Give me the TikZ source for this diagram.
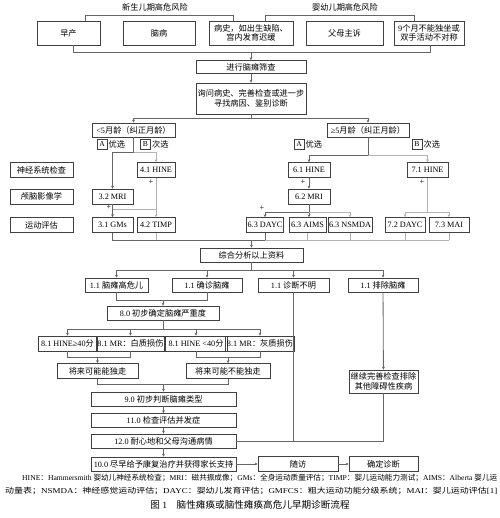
\documentclass[tikz,border=0pt]{standalone}
\usepackage{fontspec}
\setmainfont{Liberation Serif}
\newfontfamily\cjk{Noto Sans CJK SC}
\newcommand{\zh}[1]{{\cjk #1}}
\usetikzlibrary{arrows.meta}
\tikzset{
  box/.style={draw=black!75, line width=0.6pt, inner sep=1pt, align=center,
    minimum height=0.45cm, font=\fontsize{7}{8.2}\selectfont},
  tag/.style={draw=black!75, line width=0.5pt, inner sep=0.8pt, minimum size=0.3cm,
    font=\fontsize{6.5}{7}\selectfont},
  txt/.style={font=\fontsize{7}{8.2}\selectfont, inner sep=1pt},
  notetxt/.style={font=\fontsize{6.4}{7}\selectfont, inner sep=0pt},
  line/.style={draw=black!60, line width=0.7pt},
  link/.style={line, -{Stealth[length=2.5pt,width=2.5pt]}},
  alt/.style={draw=black!30, line width=0.6pt},
  altlink/.style={alt, -{Stealth[length=2.5pt,width=2.5pt]}},
}
\begin{document}
\begin{tikzpicture}[x=0.03cm, y=-0.03cm]
  \useasboundingbox (0,0) rectangle (500,518);
  % risk factors
  \node[txt] (nb) at (155,7) {\zh{新生儿期高危风险}};
  \node[txt] (inf) at (345,7) {\zh{婴幼儿期高危风险}};
  \node[box, minimum width=1.89cm, minimum height=0.72cm] (early) at (68.5,33) {\zh{早产}};
  \node[box, minimum width=2.16cm, minimum height=0.72cm] (brain) at (159,33) {\zh{脑病}};
  \node[box, minimum width=2.52cm, minimum height=0.72cm] (hist) at (251,33) {\zh{病史，如出生缺陷、}\\\zh{宫内发育迟缓}};
  \node[box, minimum width=2.31cm, minimum height=0.72cm] (parent) at (344.5,33) {\zh{父母主诉}};
  \node[box, minimum width=2.10cm, minimum height=0.72cm] (sit) at (429,33) {9\zh{个月不能独坐或}\\\zh{双手活动不对称}};
  \coordinate (nbl) at (85,15);
  \coordinate (nbr) at (233,15);
  \coordinate (infl) at (265,15);
  \coordinate (infr) at (414,15);
  \draw[line] (nbl |- early.north) -- (nbl) -- (nbr) -- (nbr |- hist.north);
  \draw[line] (infl |- hist.north) -- (infl) -- (infr) -- (infr |- sit.north);
  \coordinate (bl) at (73,52);
  \coordinate (br) at (430,52);
  \coordinate (jtop) at (251,52);
  \draw[line] (bl |- early.south) -- (bl) -- (br) -- (br |- sit.south);
  % screening
  \node[box, minimum width=3.30cm, minimum height=0.39cm] (screen) at (251,67) {\zh{进行脑瘫筛查}};
  \node[box, minimum width=3.30cm, minimum height=0.93cm] (ask) at (251,98.5) {\zh{询问病史、完善检查或进一步}\\\zh{寻找病因、鉴别诊断}};
  \draw[link] (jtop) -- (screen);
  \draw[link] (screen) -- (ask);
  \node[box, minimum width=2.49cm, minimum height=0.42cm] (lt5) at (133.5,130) {<5\zh{月龄（纠正月龄）}};
  \node[box, minimum width=2.46cm, minimum height=0.42cm] (ge5) at (368,130) {≥5\zh{月龄（纠正月龄）}};
  \coordinate (jage) at (251,118);
  \draw[line] (ask) -- (jage);
  \draw[link] (jage) -| (lt5);
  \draw[link] (jage) -| (ge5);
  % choices
  \node[tag] (lA) at (102,144) {A};
  \node[txt, right] at (lA.east) {\zh{优选}};
  \node[tag] (lB) at (145.5,144) {B};
  \node[txt, right] at (lB.east) {\zh{次选}};
  \node[tag] (rA) at (299,144) {A};
  \node[txt, right] at (rA.east) {\zh{优选}};
  \node[tag] (rB) at (417,144) {B};
  \node[txt, right] at (rB.east) {\zh{次选}};
  % row titles
  \node[box, minimum width=1.89cm] (rneuro) at (41.5,170) {\zh{神经系统检查}};
  \node[box, minimum width=1.89cm] (rimg) at (41.5,196.5) {\zh{颅脑影像学}};
  \node[box, minimum width=1.89cm] (rmot) at (41.5,225) {\zh{运动评估}};
  % under 5 months
  \node[box, minimum width=1.14cm] (hine41) at (156,170) {4.1 HINE};
  \node[box, minimum width=1.23cm] (mri32) at (112.5,196.5) {3.2 MRI};
  \node[box, minimum width=1.23cm] (gms31) at (112.5,225) {3.1 GMs};
  \node[box, minimum width=1.14cm] (timp42) at (156,225) {4.2 TIMP};
  \coordinate (jl) at (133.5,152);
  \coordinate (jm) at (112.5,209);
  \draw[line] (lt5) -- (jl);
  \draw[link] (jl) -| (mri32);
  \draw[altlink] (jl) -| (hine41);
  \draw[link] (mri32) -- (gms31);
  \draw[altlink] (hine41) -- (timp42);
  \draw[alt] (jm) -- (jm -| timp42);
  \node[txt] at (109,207) {+};
  \node[txt] at (151,182) {+};
  % 5 months and over
  \node[box, minimum width=1.26cm] (hine61) at (309,170) {6.1 HINE};
  \node[box, minimum width=1.26cm] (mri62) at (309,196.5) {6.2 MRI};
  \node[box, minimum width=1.08cm] (dayc63) at (265,225) {6.3 DAYC};
  \node[box, minimum width=1.11cm] (aims63) at (307.5,225) {6.3 AIMS};
  \node[box, minimum width=1.32cm] (nsmda63) at (350,225) {6.3 NSMDA};
  \node[box, minimum width=1.23cm] (hine71) at (427.5,170) {7.1 HINE};
  \node[box, minimum width=1.20cm] (dayc72) at (405,225) {7.2 DAYC};
  \node[box, minimum width=1.20cm] (mai73) at (449,225) {7.3 MAI};
  \coordinate (jr) at (368,155);
  \coordinate (jr6) at (309,212);
  \coordinate (jr7) at (427.5,212);
  \draw[line] (ge5) -- (jr);
  \draw[link] (jr) -| (hine61);
  \draw[altlink] (jr) -| (hine71);
  \draw[link] (hine61) -- (mri62);
  \draw[line] (mri62) -- (jr6);
  \draw[link] (jr6) -| (dayc63);
  \draw[link] (jr6) -- (jr6 |- aims63.north);
  \draw[altlink] (jr6) -| (nsmda63);
  \draw[alt] (hine71) -- (jr7);
  \draw[altlink] (jr7) -| (dayc72);
  \draw[altlink] (jr7) -| (mai73);
  \node[txt] at (303,182) {+};
  \node[txt] at (262,208) {+};
  \node[txt] at (422,182) {+};
  % collect
  \coordinate (jc) at (251.5,240);
  \draw[line] (gms31) |- (jc);
  \draw[line] (dayc63) |- (jc);
  \draw[alt] (timp42) -- (timp42 |- jc);
  \draw[alt] (aims63) -- (aims63 |- jc);
  \draw[alt] (nsmda63) -- (nsmda63 |- jc);
  \draw[alt] (dayc72) -- (dayc72 |- jc);
  \draw[alt] (mai73) -- (mai73 |- jc);
  \draw[alt] (dayc63 |- jc) -- (mai73 |- jc);
  \node[box, minimum width=3.09cm, minimum height=0.42cm] (summ) at (251.5,255) {\zh{综合分析以上资料}};
  \draw[link] (jc) -- (summ);
  % results
  \node[box, minimum width=1.89cm, minimum height=0.42cm] (hr) at (116.5,285) {1.1 \zh{脑瘫高危儿}};
  \node[box, minimum width=2.10cm, minimum height=0.42cm] (cp) at (207,285) {1.1 \zh{确诊脑瘫}};
  \node[box, minimum width=2.13cm, minimum height=0.42cm] (unk) at (293.5,285) {1.1 \zh{诊断不明}};
  \node[box, minimum width=2.10cm, minimum height=0.42cm] (excl) at (383,285) {1.1 \zh{排除脑瘫}};
  \coordinate (js) at (251.5,270);
  \draw[line] (summ) -- (js);
  \draw[line] (js -| hr) -- (js -| excl);
  \draw[link] (js -| hr) -- (hr);
  \draw[link] (js -| cp) -- (cp);
  \draw[link] (js -| unk) -- (unk);
  \draw[link] (js -| excl) -- (excl);
  % severity
  \node[box, minimum width=3.36cm, minimum height=0.42cm] (sev) at (163,313) {8.0 \zh{初步确定脑瘫严重度}};
  \coordinate (jh) at (163,300);
  \draw[line] (hr) |- (jh);
  \draw[line] (cp) |- (jh);
  \draw[link] (jh) -- (sev);
  \node[box, minimum width=1.77cm] (s1) at (67.5,343.5) {8.1 HINE≥40\zh{分}};
  \node[box, minimum width=1.89cm] (s2) at (130.5,343.5) {8.1 MR\zh{：白质损伤}};
  \node[box, minimum width=1.86cm] (s3) at (196,343.5) {8.1 HINE <40\zh{分}};
  \node[box, minimum width=1.86cm] (s4) at (260,343.5) {8.1 MR\zh{：灰质损伤}};
  \coordinate (jv) at (163,329);
  \draw[line] (sev) -- (jv);
  \draw[line] (jv -| s1) -- (jv -| s4);
  \draw[link] (jv -| s1) -- (s1);
  \draw[link] (jv -| s2) -- (s2);
  \draw[link] (jv -| s3) -- (s3);
  \draw[link] (jv -| s4) -- (s4);
  \node[box, minimum width=2.43cm] (walk) at (97.5,371) {\zh{将来可能能独走}};
  \node[box, minimum width=2.52cm] (nowalk) at (228,371) {\zh{将来可能不能独走}};
  \coordinate (jw) at (97.5,357);
  \coordinate (jn) at (228,357);
  \draw[line] (s1) |- (jw);
  \draw[line] (s2) |- (jw);
  \draw[link] (jw) -- (walk);
  \draw[line] (s3) |- (jn);
  \draw[line] (s4) |- (jn);
  \draw[link] (jn) -- (nowalk);
  % management
  \node[box, minimum width=4.35cm, minimum height=0.42cm] (type) at (163.5,399) {9.0 \zh{初步判断脑瘫类型}};
  \node[box, minimum width=4.35cm, minimum height=0.42cm] (comp) at (163.5,420.5) {11.0 \zh{检查评估并发症}};
  \node[box, minimum width=4.35cm, minimum height=0.42cm] (talk) at (163.5,441) {12.0 \zh{耐心地和父母沟通病情}};
  \node[box, minimum width=4.35cm, minimum height=0.42cm] (rehab) at (163.5,464) {10.0 \zh{尽早给予康复治疗并获得家长支持}};
  \coordinate (jt) at (163.5,384);
  \draw[line] (walk) |- (jt);
  \draw[line] (nowalk) |- (jt);
  \draw[link] (jt) -- (type);
  \draw[link] (type) -- (comp);
  \draw[link] (comp) -- (talk);
  \draw[link] (talk) -- (rehab);
  \node[box, minimum width=2.07cm, minimum height=0.69cm] (more) at (383.5,381.5) {\zh{继续完善检查排除}\\\zh{其他障碍性疾病}};
  \node[box, minimum width=2.40cm] (follow) at (298,464) {\zh{随访}};
  \node[box, minimum width=2.07cm] (final) at (383.5,464) {\zh{确定诊断}};
  \draw[link] (excl) -- (more);
  \draw[line] (more) |- (talk);
  \draw[line] (unk) -- (unk |- talk);
  \draw[link] (rehab) -- (follow);
  \draw[link] (follow) -- (final);
  % notes
  \node[notetxt, anchor=west] (note1) at (22,478) {\resizebox{14.25cm}{\height}{HINE\zh{：}Hammersmith \zh{婴幼儿神经系统检查；}MRI\zh{：磁共振成像；}GMs\zh{：全身运动质量评估；}TIMP\zh{：婴儿运动能力测试；}AIMS\zh{：}Alberta \zh{婴儿运}}};
  \node[notetxt, anchor=west] (note2) at (5,491) {\resizebox{14.76cm}{\height}{\zh{动量表；}NSMDA\zh{：神经感觉运动评估；}DAYC\zh{：婴幼儿发育评估；}GMFCS\zh{：粗大运动功能分级系统；}MAI\zh{：婴儿运动评估}[1]}};
  \node[notetxt, font=\fontsize{8.2}{9}\selectfont] (title) at (250,505) {\zh{图} 1\quad\zh{脑性瘫痪或脑性瘫痪高危儿早期诊断流程}};
\end{tikzpicture}
\end{document}
